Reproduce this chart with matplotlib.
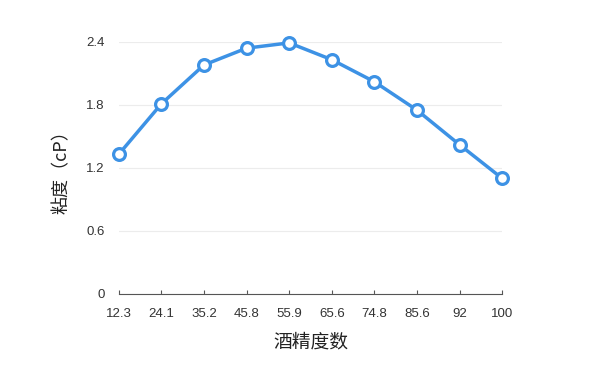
import matplotlib
matplotlib.use('Agg')
import matplotlib.pyplot as plt

plt.rcParams['font.family'] = ['Noto Sans CJK SC', 'DejaVu Sans']

# alcohol degree vs viscosity
degrees = ['12.3', '24.1', '35.2', '45.8', '55.9', '65.6', '74.8', '85.6', '92', '100']
viscosity = [1.33, 1.81, 2.18, 2.34, 2.39, 2.23, 2.02, 1.75, 1.42, 1.10]
yticks = [0, 0.6, 1.2, 1.8, 2.4]
ytick_labels = ['0', '0.6', '1.2', '1.8', '2.4']

fig = plt.figure(figsize=(6, 3.67), dpi=100)
ax = fig.add_axes([0.198, 0.199, 0.639, 0.687])

x = list(range(len(degrees)))
ax.plot(x, viscosity, color='#3d92e5', lw=2.5, marker='o', ms=8.5,
        mfc='white', mec='#3d92e5', mew=2.3, clip_on=False, zorder=3)

ax.set_xlim(0, len(degrees) - 1)
ax.set_ylim(0, 2.4)
ax.set_xticks(x)
ax.set_xticklabels(degrees, fontsize=9.5, color='#333333', family='Liberation Sans')
ax.set_yticks(yticks)
ax.set_yticklabels(ytick_labels, fontsize=9.5, color='#333333', family='Liberation Sans')
ax.grid(axis='y', color='#ececec', lw=0.8)
ax.set_axisbelow(True)

for s in ['top', 'right', 'left']:
    ax.spines[s].set_visible(False)
ax.spines['bottom'].set_color('#555555')
ax.tick_params(axis='x', direction='in', length=3, color='#555555', pad=10)
ax.tick_params(axis='y', length=0, pad=10)

ax.set_xlabel('酒精度数', fontsize=13.5, color='#222222', labelpad=8)
ax.set_ylabel('粘度（cP）', fontsize=13, color='#222222', labelpad=11)

fig.savefig('out.png', dpi=100, facecolor='white')
